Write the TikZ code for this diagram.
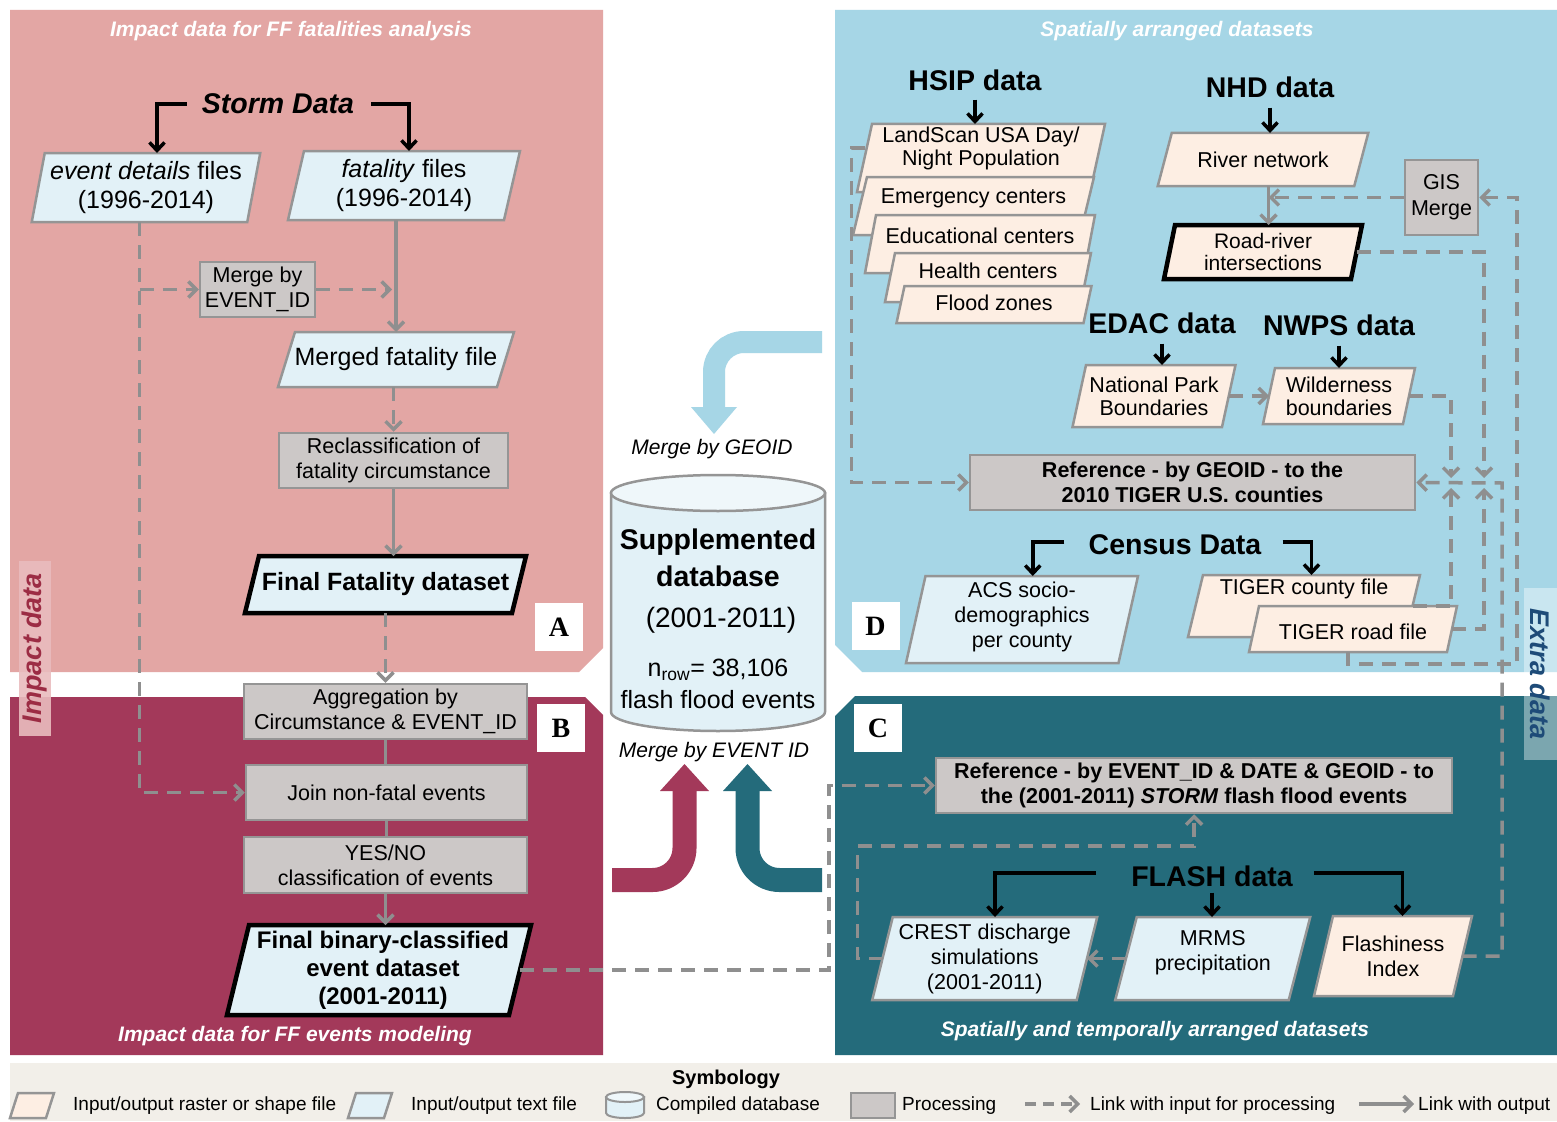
\documentclass[tikz,border=0pt]{standalone}
\usepackage{fontspec}
\setmainfont{Liberation Sans}
\newfontfamily\serifrm{Liberation Serif}
\usetikzlibrary{arrows.meta,calc}
\definecolor{pA}{HTML}{E3A6A4}
\definecolor{pB}{HTML}{A3395A}
\definecolor{pD}{HTML}{A6D6E6}
\definecolor{pC}{HTML}{246B7B}
\definecolor{procf}{HTML}{CCC8C7}
\definecolor{bordg}{HTML}{959595}
\definecolor{txtf}{HTML}{E2F1F7}
\definecolor{rasf}{HTML}{FDEEE3}
\definecolor{dashc}{HTML}{8F8F8F}
\definecolor{cyltop}{HTML}{EFF7FA}
\definecolor{legbg}{HTML}{F2EFE9}
\definecolor{impbg}{HTML}{E9BCBE}
\definecolor{impt}{HTML}{9C2C44}
\definecolor{extt}{HTML}{1E4B78}
\newcommand{\zzDt}{\fontsize{25pt}{29pt}\selectfont}
\newcommand{\zzDtb}{\fontsize{25pt}{28pt}\selectfont\bfseries}
\newcommand{\zzDtbs}{\fontsize{24pt}{28pt}\selectfont\bfseries}
\newcommand{\zzSt}{\fontsize{21.5pt}{23pt}\selectfont}
\newcommand{\zzSr}{\fontsize{21pt}{22pt}\selectfont}
\newcommand{\zzSc}{\fontsize{21.5pt}{25pt}\selectfont}
\newcommand{\zzPt}{\fontsize{21.5pt}{25pt}\selectfont}
\newcommand{\zzPtb}{\fontsize{21.5pt}{25pt}\selectfont\bfseries}
\newcommand{\zzHd}{\fontsize{28.5pt}{32pt}\selectfont\bfseries}
\newcommand{\zzTt}{\fontsize{21pt}{24pt}\selectfont\bfseries\itshape}
\newcommand{\zzLg}{\fontsize{19pt}{21pt}\selectfont}
% parallelogram: style, name, cx, cy, midwidth, height, slant, node options, text
\newcommand{\pgram}[9]{%
  \path[#1] ({#3-#5/2-#7/2},{#4+#6/2}) -- ({#3+#5/2-#7/2},{#4+#6/2}) -- ({#3+#5/2+#7/2},{#4-#6/2}) -- ({#3-#5/2+#7/2},{#4-#6/2}) -- cycle;
  \coordinate (#2-n) at ({#3+#7/2},{#4-#6/2});
  \coordinate (#2-s) at ({#3-#7/2},{#4+#6/2});
  \coordinate (#2-e) at ({#3+#5/2},{#4});
  \coordinate (#2-w) at ({#3-#5/2},{#4});
  \node[align=center, inner sep=0pt, #8] (#2) at (#3,#4) {#9};}
\begin{document}
\begin{tikzpicture}[x=1pt,y=-1pt,
  tfile/.style={fill=txtf, draw=bordg, line width=2.5pt},
  ras/.style={fill=rasf, draw=bordg, line width=2.5pt},
  tthick/.style={fill=txtf, draw=black, line width=4.5pt},
  rthick/.style={fill=rasf, draw=black, line width=4.5pt},
  proc/.style={draw=bordg, fill=procf, line width=2.5pt, inner sep=0pt, align=center, font=\zzPt},
  procb/.style={proc, font=\zzPtb},
  hdr/.style={inner sep=0pt, font=\zzHd},
  ttl/.style={inner sep=0pt, text=white, font=\zzTt},
  lbl/.style={fill=white, minimum width=48, minimum height=48, inner sep=0pt, font=\serifrm\bfseries\fontsize{28pt}{30pt}\selectfont},
  legt/.style={inner sep=0pt, anchor=west, font=\zzLg},
  blk/.style={draw=black, line width=3.5pt, -{Straight Barb[length=8pt,width=15pt]}},
  dl/.style={draw=dashc, line width=3.5pt, dash pattern=on 14pt off 9pt},
  dla/.style={dl, -{Straight Barb[length=8pt,width=16pt]}},
  sl/.style={draw=dashc, line width=3.5pt},
  sla/.style={sl, -{Straight Barb[length=8pt,width=16pt]}}
]
\useasboundingbox (0,0) rectangle (1557,1121);
\fill[white] (0,0) rectangle (1557,1121);
% panels
\fill[pA] (10,10) -- (603,10) -- (603,648) -- (579,672) -- (10,672) -- cycle;
\fill[pB] (10,697) -- (585,697) -- (603,715) -- (603,1055) -- (10,1055) -- cycle;
\fill[pD] (835,10) -- (1557,10) -- (1557,672) -- (862,672) -- (835,645) -- cycle;
\fill[pC] (855,696) -- (1557,696) -- (1557,1055) -- (835,1055) -- (835,716) -- cycle;
\fill[legbg] (10,1063) rectangle (1557,1121);

% titles
\node[ttl] (tA) at (291,31) {Impact data for FF fatalities analysis};
\node[ttl] (tD) at (1177,31) {Spatially arranged datasets};
\node[ttl] (tB) at (295,1036) {Impact data for FF events modeling};
\node[ttl] (tC) at (1155,1031) {Spatially and temporally arranged datasets};

% rotated labels
\node[rotate=90, fill=impbg, fill opacity=0.9, text opacity=1, text=impt, minimum width=175, minimum height=32, inner sep=0pt, font=\fontsize{27pt}{29pt}\selectfont\bfseries\itshape] (impl) at (35,648) {Impact data};
\node[rotate=-90, fill=white, fill opacity=0.4, text opacity=1, text=extt, minimum width=172, minimum height=33, inner sep=0pt, font=\fontsize{27pt}{29pt}\selectfont\bfseries\itshape] (extl) at (1540.5,674) {Extra data};

% panel letters
\node[lbl] (labA) at (559,627) {A};
\node[lbl] (labB) at (561,728) {B};
\node[lbl] (labC) at (878,728) {C};
\node[lbl] (labD) at (875.5,626) {D};

% central big arrows
\draw[line width=22pt, draw=pD, rounded corners=30pt] (822,342) -- (714,342) -- (714,409);
\fill[pD] (691,407) -- (737,407) -- (714,434) -- cycle;
\draw[line width=24pt, draw=pB, rounded corners=32pt] (612,880) -- (684.5,880) -- (684.5,789);
\fill[pB] (660,791) -- (709,791) -- (684.5,764) -- cycle;
\draw[line width=24pt, draw=pC, rounded corners=32pt] (822,880) -- (747.5,880) -- (747.5,789);
\fill[pC] (723,791) -- (772,791) -- (747.5,764) -- cycle;

% cylinder
\path[fill=txtf, draw=bordg, line width=2.5pt] (611,493) -- (611,712) arc[start angle=180, end angle=360, x radius=107pt, y radius=19pt] -- (825,493) -- cycle;
\draw[fill=cyltop, draw=bordg, line width=2.5pt] (718,493) ellipse [x radius=107pt, y radius=18pt];
\node[inner sep=0pt, font=\fontsize{28.5pt}{32pt}\selectfont\bfseries] (db1) at (718,542) {Supplemented};
\node[inner sep=0pt, font=\fontsize{28.5pt}{32pt}\selectfont\bfseries] (db2) at (718,576) {database};
\node[inner sep=0pt, font=\fontsize{28pt}{32pt}\selectfont] (db3) at (721,620) {(2001-2011)};
\node[inner sep=0pt, font=\fontsize{25pt}{28pt}\selectfont] (db4) at (718,670) {n\textsubscript{row}= 38,106};
\node[inner sep=0pt, font=\fontsize{25pt}{28pt}\selectfont] (db5) at (718,700) {flash flood events};
\node[inner sep=0pt, font=\fontsize{21pt}{24pt}\selectfont\itshape] (mg1) at (712,449) {Merge by GEOID};
\node[inner sep=0pt, font=\fontsize{21pt}{24pt}\selectfont\itshape] (mg2) at (714,752) {Merge by EVENT ID};

% ===== Panel A / B =====
\node[hdr, font=\zzHd\itshape] (storm) at (278,104) {Storm Data};
\pgram{tfile}{evdet}{146}{187.5}{215.5}{69}{13}{font=\zzDt}{\textit{event details} files\\(1996-2014)}
\pgram{tfile}{fat}{404}{185.5}{216}{69}{16}{font=\zzDt}{\textit{fatality} files\\(1996-2014)}
\node[proc, minimum width=115, minimum height=55] (merge) at (257.5,289.5) {Merge by\\EVENT\_ID};
\pgram{tfile}{merged}{396}{359.5}{219}{55}{17}{font=\zzDt}{Merged fatality file}
\node[proc, minimum width=229, minimum height=55] (reclass) at (393.5,460.5) {Reclassification of\\fatality circumstance};
\pgram{tthick}{finfat}{385.5}{584.5}{267}{57}{14}{font=\zzDtb}{Final Fatality dataset}
\node[proc, minimum width=283, minimum height=55] (agg) at (385.5,711.5) {Aggregation by\\Circumstance \& EVENT\_ID};
\node[proc, minimum width=281, minimum height=55] (join) at (386.5,792.5) {Join non-fatal events};
\node[proc, minimum width=283, minimum height=56] (yesno) at (385.5,865) {YES/NO\\classification of events};
\pgram{tthick}{finbin}{379}{970}{282}{90}{22}{font=\zzDtbs, xshift=4pt}{Final binary-classified\\event dataset\\(2001-2011)}

\draw[blk] ([xshift=-15pt]storm.west) -| ([xshift=4.5pt]evdet-n);
\draw[blk] ([xshift=17pt]storm.east) -| ([xshift=-3pt]fat-n);
\draw[dla] (evdet-s) |- (join.west);
\draw[dla] (evdet-s |- merge.west) -- (merge.west);
\draw[dla, shorten >=4pt] (merge.east) -- (merge.east -| fat-s);
\draw[sla] (fat-s) -- (fat-s |- merged-n);
\draw[dla] (reclass.north |- merged-s) -- (reclass.north);
\draw[sla] (reclass.south) -- (reclass.south |- finfat-n);
\draw[dla] (agg.north |- finfat-s) -- (agg.north);
\draw[sl] (agg.south) -- (agg.south |- join.north);
\draw[sl] (join.south) -- (join.south |- yesno.north);
\draw[sla] (yesno.south) -- (yesno.south |- finbin-n);

% ===== Panel D =====
\node[hdr] (hsip) at (975,80) {HSIP data};
\node[hdr] (nhd) at (1270,87) {NHD data};
\node[hdr] (edac) at (1162,323) {EDAC data};
\node[hdr] (nwps) at (1339,325) {NWPS data};
\node[hdr] (census) at (1175,545) {Census Data};
\pgram{ras}{landscan}{981}{158}{233}{68}{15}{font=\zzSt, yshift=10pt}{LandScan USA Day/\\Night Population}
\pgram{ras}{emerg}{973.5}{206}{227}{58}{14}{font=\zzSt, yshift=8pt}{Emergency centers}
\pgram{ras}{educ}{980}{244}{219}{58}{11}{font=\zzSt, yshift=8pt}{Educational centers}
\pgram{ras}{health}{988}{277.5}{196}{49}{10}{font=\zzSt, yshift=6.5pt}{Health centers}
\pgram{ras}{flood}{994}{304.5}{187}{37}{8}{font=\zzSt, yshift=2pt}{Flood zones}
\pgram{ras}{river}{1263}{159.5}{196.5}{53}{14}{font=\zzSt}{River network}
\pgram{rthick}{road}{1263}{252}{187}{54}{11}{font=\zzSr}{Road-river\\intersections}
\node[proc, minimum width=73, minimum height=75, font=\fontsize{21.5pt}{26pt}\selectfont] (gis) at (1441.5,197.5) {GIS\\Merge};
\pgram{ras}{natpark}{1154}{396}{149.5}{62}{13.5}{font=\zzSt}{National Park\\Boundaries}
\pgram{ras}{wild}{1339}{396}{140}{56}{12}{font=\zzSt}{Wilderness\\boundaries}
\node[procb, minimum width=445, minimum height=55] (refD) at (1192.5,482.5) {Reference - by GEOID - to the\\2010 TIGER U.S. counties};
\pgram{tfile}{acs}{1022}{619.5}{212.5}{87}{19.5}{font=\zzSc, yshift=3pt}{ACS socio-\\demographics\\per county}
\pgram{ras}{tigcty}{1304}{606}{217}{62}{15}{font=\zzSt, yshift=17pt}{TIGER county file}
\pgram{ras}{tigroad}{1353}{629}{198}{46}{10}{font=\zzSt, yshift=-3pt}{TIGER road file}

\coordinate (j1) at (1451,483);
\coordinate (j2) at (1484,483);
\coordinate (j3) at (1502,483);
\coordinate (k1) at (1517,664);

\draw[blk] ([yshift=-9pt]hsip.south) -- (hsip.south |- landscan-n);
\draw[blk] ([yshift=-10pt]nhd.south) -- (nhd.south |- river-n);
\draw[blk] ([yshift=-10pt]edac.south) -- (edac.south |- natpark-n);
\draw[blk] ([yshift=-10pt]nwps.south) -- (nwps.south |- wild-n);
\draw[blk] ([xshift=-24pt,yshift=3pt]census.west) -| ([xshift=1pt]acs-n);
\draw[blk] ([xshift=21pt,yshift=3pt]census.east) -| (tigcty-n);
\draw[sla] (road-n |- river-s) -- (road-n);
\draw[dla] (gis.west) -- (gis.west -| road-n);
\draw[dla] ([yshift=10pt]landscan-w) -- ++(-13,0) |- (refD.west);
\draw[dla] (natpark-e) -- (wild-w);
\draw[dla, shorten >=5pt] (road-e) -| (j2);
\draw[dla, shorten >=5pt] (tigroad-e) -| (j2);
\draw[dla, shorten >=5pt] (wild-e) -| (j1);
\draw[dla, shorten >=5pt] (tigcty-e) -| (j1);
\draw[dla] (tigroad-s) |- (k1) |- (gis.east);

% ===== Panel C =====
\node[hdr] (flashd) at (1212,876) {FLASH data};
\node[procb, minimum width=516, minimum height=55] (refC) at (1194,785.5) {Reference - by EVENT\_ID \& DATE \& GEOID - to\\the (2001-2011) \textit{STORM} flash flood events};
\pgram{tfile}{crest}{984.75}{958.5}{204.5}{83}{20.5}{font=\zzSc}{CREST discharge\\simulations\\(2001-2011)}
\pgram{tfile}{mrms}{1212.75}{958.5}{173.5}{83}{21.5}{font=\zzSc, yshift=6pt}{MRMS\\precipitation}
\pgram{ras}{flash}{1393}{956}{139}{80}{19}{font=\zzSc}{Flashiness\\Index}

\coordinate (cmid) at (829,900);
\coordinate (cl) at (1194,846);
\draw[blk] ([xshift=-35pt,yshift=3pt]flashd.west) -| (crest-n);
\draw[blk] ([yshift=-6pt]flashd.south) -- (flashd.south |- mrms-n);
\draw[blk] ([xshift=21pt,yshift=3pt]flashd.east) -| (flash-n);
\draw[dla] (mrms-w) -- (crest-e);
\draw[dla] (crest-w) -- ++(-25,0) |- (cl) -- (refC.south);
\draw[dla] (finbin-e) -| (cmid) |- (refC.west);
\draw[dla] (flash-e) -| (j3) -- (refD.east);

% ===== Symbology =====
\node[inner sep=0pt, font=\fontsize{20pt}{22pt}\selectfont\bfseries] (symt) at (726,1079) {Symbology};
\pgram{ras}{lg1}{32}{1105.5}{36}{25}{8}{}{}
\node[legt] (lt1) at (73,1106) {Input/output raster or shape file};
\pgram{tfile}{lg2}{370}{1105.5}{36}{25}{8}{}{}
\node[legt] (lt2) at (411,1106) {Input/output text file};
\path[fill=txtf, draw=bordg, line width=2pt] (606,1097) -- (606,1113) arc[start angle=180, end angle=360, x radius=19pt, y radius=5pt] -- (644,1097) -- cycle;
\draw[fill=cyltop, draw=bordg, line width=2pt] (625,1097) ellipse [x radius=19pt, y radius=5pt];
\node[legt] (lt3) at (656,1106) {Compiled database};
\node[proc, minimum width=44, minimum height=25] (lg4) at (873,1105.5) {};
\node[legt] (lt4) at (902,1106) {Processing};
\coordinate (la1) at (1025,1104);
\coordinate (la2) at (1080,1104);
\draw[dla, dash pattern=on 11pt off 7pt] (la1) -- (la2);
\node[legt] (lt5) at (1090,1106) {Link with input for processing};
\coordinate (lb1) at (1359,1104);
\coordinate (lb2) at (1414,1104);
\draw[sla] (lb1) -- (lb2);
\node[legt] (lt6) at (1418,1106) {Link with output};
\end{tikzpicture}
\end{document}
